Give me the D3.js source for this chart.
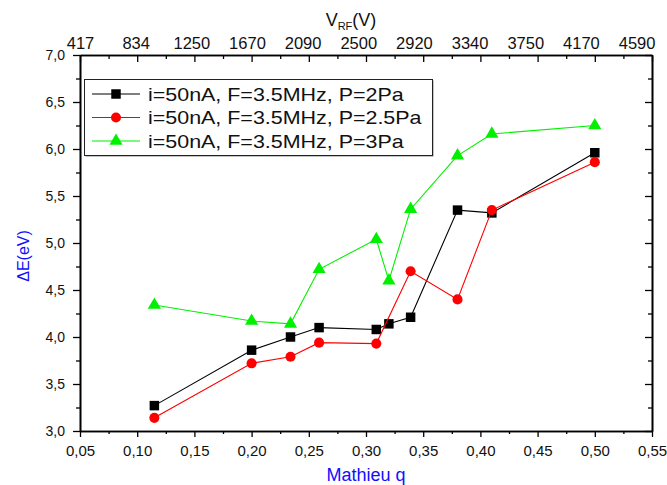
<!DOCTYPE html>
<html><head><meta charset="utf-8">
<script src="https://cdn.jsdelivr.net/npm/d3@7"></script>
<style>
html,body{margin:0;padding:0;background:#fff;}
svg{display:block;font-family:"Liberation Sans",Arial,Helvetica,sans-serif;}
</style></head>
<body><svg id="c" width="667" height="485"></svg>
<script>
// ---- data ----
const qBlack = [0.115, 0.200, 0.234, 0.259, 0.309, 0.320, 0.339, 0.380, 0.410, 0.500];
const eBlack = [3.27, 3.86, 4.00, 4.10, 4.08, 4.14, 4.21, 5.35, 5.32, 5.96];
const qRed   = [0.115, 0.200, 0.234, 0.259, 0.309, 0.339, 0.380, 0.410, 0.500];
const eRed   = [3.14, 3.72, 3.79, 3.94, 3.93, 4.70, 4.40, 5.35, 5.86];
const qGreen = [0.115, 0.200, 0.234, 0.259, 0.309, 0.320, 0.339, 0.380, 0.410, 0.500];
const eGreen = [4.34, 4.17, 4.14, 4.72, 5.04, 4.60, 5.36, 5.93, 6.16, 6.25];
const seriesNames = ["i=50nA, F=3.5MHz, P=2Pa", "i=50nA, F=3.5MHz, P=2.5Pa", "i=50nA, F=3.5MHz, P=3Pa"];
const xTicks = [0.05,0.10,0.15,0.20,0.25,0.30,0.35,0.40,0.45,0.50,0.55];
const topTickLabels = ["417","834","1250","1670","2090","2500","2920","3340","3750","4170","4590"];
const yTicks = [3.0,3.5,4.0,4.5,5.0,5.5,6.0,6.5,7.0];

const svg = d3.select("#c");
const L = 80, R = 652, T = 55, B = 431;
const x = d3.scaleLinear().domain([0.05,0.55]).range([L,R]);
const y = d3.scaleLinear().domain([3,7]).range([B,T]);
const comma = d => d3.format(".2f")(d).replace(".", ",");
const commaY = d => d3.format(".1f")(d).replace(".", ",");
const xMinor = xTicks.slice(0,-1).map(d => d + 0.025);
const yMinor = yTicks.slice(0,-1).map(d => d + 0.25);

function styleAxis(g, fs){
  g.selectAll("path.domain").attr("stroke","#000").attr("stroke-width",1.6);
  g.selectAll(".tick line").attr("stroke","#000").attr("stroke-width",1.3);
  g.selectAll("text").attr("fill","#111").style("font-size",fs+"px").style("font-family","'Liberation Sans',Arial,sans-serif");
}
// bottom
svg.append("g").attr("transform",`translate(0,${B})`)
  .call(d3.axisBottom(x).tickValues(xMinor).tickSize(3).tickSizeOuter(0).tickFormat(""))
  .call(g=>styleAxis(g,15));
svg.append("g").attr("transform",`translate(0,${B})`)
  .call(d3.axisBottom(x).tickValues(xTicks).tickSize(6).tickSizeOuter(0).tickPadding(8).tickFormat(comma))
  .call(g=>styleAxis(g,15));
// top
svg.append("g").attr("transform",`translate(0,${T})`)
  .call(d3.axisTop(x).tickValues(xMinor).tickSize(-4).tickSizeOuter(0).tickFormat(""))
  .call(g=>styleAxis(g,16));
svg.append("g").attr("transform",`translate(0,${T})`)
  .call(d3.axisTop(x).tickValues(xTicks).tickSize(-7).tickSizeOuter(0).tickPadding(6)
        .tickFormat((d,i)=>topTickLabels[i]))
  .call(g=>styleAxis(g,16.5))
  .call(g=>g.selectAll(".tick text").attr("dx", d => -(x(d)-L)*0.027));
// left
svg.append("g").attr("transform",`translate(${L},0)`)
  .call(d3.axisLeft(y).tickValues(yMinor).tickSize(4).tickSizeOuter(0).tickFormat(""))
  .call(g=>styleAxis(g,14));
svg.append("g").attr("transform",`translate(${L},0)`)
  .call(d3.axisLeft(y).tickValues(yTicks).tickSize(7).tickSizeOuter(0).tickPadding(8).tickFormat(commaY))
  .call(g=>styleAxis(g,14));
// right
svg.append("g").attr("transform",`translate(${R},0)`)
  .call(d3.axisRight(y).tickValues(yMinor).tickSize(-4).tickSizeOuter(0).tickFormat(""))
  .call(g=>styleAxis(g,14));
svg.append("g").attr("transform",`translate(${R},0)`)
  .call(d3.axisRight(y).tickValues(yTicks).tickSize(-7).tickSizeOuter(0).tickFormat(""))
  .call(g=>styleAxis(g,14));

// axis titles
svg.append("text").attr("x",366).attr("y",481).attr("text-anchor","middle")
  .attr("fill","#1010ff").style("font-size","18px").text("Mathieu q");
svg.append("text").attr("transform","translate(29,256) rotate(-90)").attr("text-anchor","middle")
  .attr("fill","#1010ff").style("font-size","16px").text("ΔE(eV)");
const tt = svg.append("text").attr("x",351).attr("y",26).attr("text-anchor","middle")
  .attr("fill","#111").style("font-size","18px");
tt.append("tspan").text("V");
tt.append("tspan").attr("dy",4).style("font-size","11px").text("RF");
tt.append("tspan").attr("dy",-4).text("(V)");

// series
const series = [
  {q:qBlack, e:eBlack, color:"#000000", sym:d3.symbolSquare, size:90},
  {q:qRed,   e:eRed,   color:"#ff0000", sym:d3.symbolCircle, size:80},
  {q:qGreen, e:eGreen, color:"#00f000", sym:d3.symbolTriangle, size:75}
];
const line = d3.line().x(d=>x(d[0])).y(d=>y(d[1]));
series.forEach(s=>{
  const pts = s.q.map((q,i)=>[q, s.e[i]]);
  svg.append("path").datum(pts).attr("d",line).attr("fill","none")
    .attr("stroke",s.color).attr("stroke-width",1.1);
  svg.append("g").selectAll("path").data(pts).join("path")
    .attr("transform",d=>`translate(${x(d[0])},${y(d[1])})`)
    .attr("d",d3.symbol().type(s.sym).size(s.size)).attr("fill",s.color);
});

// legend
const lg = svg.append("g");
lg.append("rect").attr("x",85.5).attr("y",80.5).attr("width",348).attr("height",76).attr("fill","#888");
lg.append("rect").attr("x",84.5).attr("y",79.5).attr("width",348).attr("height",76)
  .attr("fill","#fff").attr("stroke","#222").attr("stroke-width",1);
series.forEach((s,i)=>{
  const cy = 94 + i*23.5;
  lg.append("line").attr("x1",92).attr("x2",140).attr("y1",cy).attr("y2",cy)
    .attr("stroke",s.color).attr("stroke-width",1.1);
  lg.append("path").attr("transform",`translate(116,${cy})`)
    .attr("d",d3.symbol().type(s.sym).size(s.size)).attr("fill",s.color);
  lg.append("text").attr("transform",`translate(148,${cy+6.8}) scale(1.16,1)`)
    .attr("fill","#111").style("font-size","18.5px").text(seriesNames[i]);
});
</script></body></html>
